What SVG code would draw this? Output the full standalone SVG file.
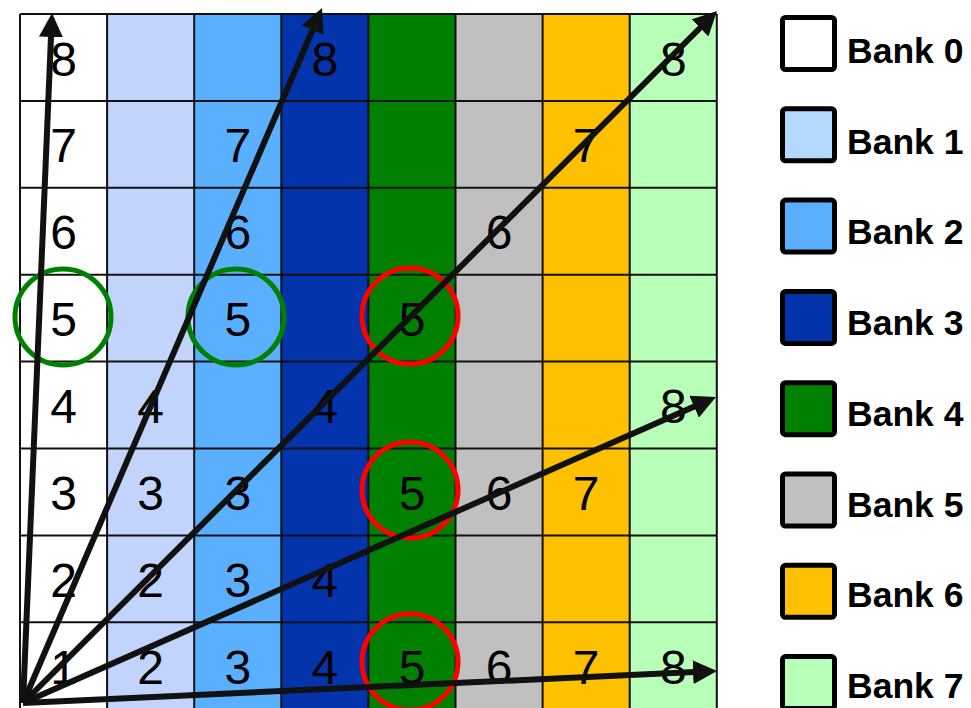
<svg xmlns="http://www.w3.org/2000/svg" width="971" height="708" viewBox="0 0 971 708">
<defs>
<style>
.num{font-family:"Liberation Sans",Arial,sans-serif;font-size:48px;fill:#000;text-anchor:middle}
.lbl{font-family:"Liberation Sans",Arial,sans-serif;font-size:35.5px;font-weight:bold;fill:#000}
.grid{stroke:#111;stroke-width:2;fill:none}
.arr{stroke:#111;stroke-width:6;fill:none;marker-end:url(#ah)}
.lbox{stroke:#000;stroke-width:5}
.rc{fill:none;stroke:#f00;stroke-width:5}
.gc{fill:none;stroke:#008000;stroke-width:5}
</style>
<marker id="ah" viewBox="0 0 24 24" markerWidth="24" markerHeight="24" refX="12" refY="12" orient="auto" markerUnits="userSpaceOnUse">
<path d="M0,0 L24,12 L0,24 z" fill="#111"/>
</marker>
</defs>
<rect width="971" height="708" fill="#fff"/>
<g id="columns">
<rect x="20" y="14" width="87.1" height="696" fill="#ffffff"/>
<rect x="107.1" y="14" width="87.1" height="696" fill="#c2d3fc"/>
<rect x="194.2" y="14" width="87.1" height="696" fill="#5ab0ff"/>
<rect x="281.3" y="14" width="87.1" height="696" fill="#0334ac"/>
<rect x="368.4" y="14" width="87.1" height="696" fill="#008000"/>
<rect x="455.5" y="14" width="87.1" height="696" fill="#c0c0c0"/>
<rect x="542.6" y="14" width="87.1" height="696" fill="#ffc000"/>
<rect x="629.7" y="14" width="87.1" height="696" fill="#b8ffb8"/>
</g>
<g id="gridlines" class="grid">
<path d="M20,14V710M107.1,14V710M194.2,14V710M281.3,14V710M368.4,14V710M455.5,14V710M542.6,14V710M629.7,14V710M716.8,14V710"/>
<path d="M20,14H716.8M20,100.9H716.8M20,187.8H716.8M20,274.7H716.8M20,361.6H716.8M20,448.5H716.8M20,535.4H716.8M20,622.3H716.8"/>
</g>
<g id="numbers">
<text class="num" x="63.6" y="75.5">8</text>
<text class="num" x="324.9" y="75.5">8</text>
<text class="num" x="673.3" y="75.5">8</text>
<text class="num" x="63.6" y="162.4">7</text>
<text class="num" x="237.8" y="162.4">7</text>
<text class="num" x="586.2" y="162.4">7</text>
<text class="num" x="63.6" y="249.3">6</text>
<text class="num" x="237.8" y="249.3">6</text>
<text class="num" x="499.1" y="249.3">6</text>
<text class="num" x="63.6" y="336.2">5</text>
<text class="num" x="237.8" y="336.2">5</text>
<text class="num" x="412" y="336.2">5</text>
<text class="num" x="63.6" y="423.1">4</text>
<text class="num" x="150.7" y="423.1">4</text>
<text class="num" x="324.9" y="423.1">4</text>
<text class="num" x="673.3" y="423.1">8</text>
<text class="num" x="63.6" y="510">3</text>
<text class="num" x="150.7" y="510">3</text>
<text class="num" x="237.8" y="510">3</text>
<text class="num" x="412" y="510">5</text>
<text class="num" x="499.1" y="510">6</text>
<text class="num" x="586.2" y="510">7</text>
<text class="num" x="63.6" y="596.9">2</text>
<text class="num" x="150.7" y="596.9">2</text>
<text class="num" x="237.8" y="596.9">3</text>
<text class="num" x="324.9" y="596.9">4</text>
<text class="num" x="63.6" y="683.8">1</text>
<text class="num" x="150.7" y="683.8">2</text>
<text class="num" x="237.8" y="683.8">3</text>
<text class="num" x="324.9" y="683.8">4</text>
<text class="num" x="412" y="683.8">5</text>
<text class="num" x="499.1" y="683.8">6</text>
<text class="num" x="586.2" y="683.8">7</text>
<text class="num" x="673.3" y="683.8">8</text>
</g>
<g id="circles">
<circle class="gc" cx="63" cy="317" r="48"/>
<circle class="gc" cx="236" cy="317" r="48"/>
<circle class="rc" cx="410" cy="316" r="48"/>
<circle class="rc" cx="410" cy="490" r="48"/>
<circle class="rc" cx="410" cy="662" r="48"/>
</g>
<g id="connectors">
<line class="arr" x1="23" y1="703" x2="51.5" y2="25"/>
<line class="arr" x1="23" y1="703" x2="317.3" y2="19"/>
<line class="arr" x1="23" y1="703" x2="708.5" y2="19.5"/>
<line class="arr" x1="23" y1="703" x2="705" y2="401.8"/>
<line class="arr" x1="23" y1="703" x2="705" y2="671.6"/>
</g>
<g id="legend-bank0"><rect class="lbox" x="782.5" y="17.5" width="52" height="52" rx="3" fill="#ffffff"/><text class="lbl" x="847" y="63">Bank 0</text></g>
<g id="legend-bank1"><rect class="lbox" x="782.5" y="108.8" width="52" height="52" rx="3" fill="#b3d9ff"/><text class="lbl" x="847" y="153.7">Bank 1</text></g>
<g id="legend-bank2"><rect class="lbox" x="782.5" y="200.1" width="52" height="52" rx="3" fill="#5ab0ff"/><text class="lbl" x="847" y="244.4">Bank 2</text></g>
<g id="legend-bank3"><rect class="lbox" x="782.5" y="291.4" width="52" height="52" rx="3" fill="#0033aa"/><text class="lbl" x="847" y="335.1">Bank 3</text></g>
<g id="legend-bank4"><rect class="lbox" x="782.5" y="382.7" width="52" height="52" rx="3" fill="#008000"/><text class="lbl" x="847" y="425.8">Bank 4</text></g>
<g id="legend-bank5"><rect class="lbox" x="782.5" y="474" width="52" height="52" rx="3" fill="#c0c0c0"/><text class="lbl" x="847" y="516.5">Bank 5</text></g>
<g id="legend-bank6"><rect class="lbox" x="782.5" y="565.3" width="52" height="52" rx="3" fill="#ffc000"/><text class="lbl" x="847" y="607.2">Bank 6</text></g>
<g id="legend-bank7"><rect class="lbox" x="782.5" y="656.6" width="52" height="52" rx="3" fill="#b8ffb8"/><text class="lbl" x="847" y="697.9">Bank 7</text></g>
</svg>
